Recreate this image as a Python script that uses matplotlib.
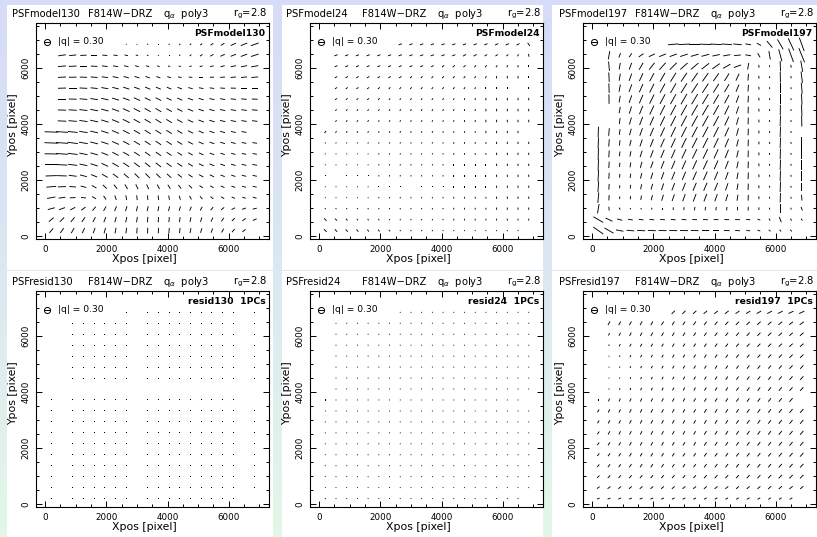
import numpy as np
import matplotlib
matplotlib.use("Agg")
import matplotlib.pyplot as plt
from matplotlib.patches import Rectangle

# star grid on the drizzled frame
grid_x = [200, 550, 900, 1250, 1600, 1950, 2300, 2650, 3000, 3350,
          3700, 4050, 4400, 4750, 5100, 5450, 5800, 6150, 6500, 6850]
grid_y = [6830, 6440, 6050, 5660, 5270, 4880, 4490, 4100, 3710, 3320,
          2930, 2540, 2150, 1760, 1370, 980, 590, 200]

# token = position angle [deg] / |q| x 100, '.' = no star; rows top to bottom
model130 = [
    ". . . . . . . 120/5 110/5 100/6 90/6 70/7 55/8 45/10 40/13 35/17 30/22 25/30 22/37 20/44",
    ". 8/40 6/37 3/33 0/30 176/26 172/22 168/18 165/13 160/9 140/6 90/6 55/8 42/12 35/16 30/20 26/25 22/30 20/36 18/42",
    ". 5/42 3/40 0/37 177/34 173/30 170/27 166/24 163/20 160/17 160/14 165/12 175/12 10/13 15/16 15/19 15/23 13/28 12/33 10/38",
    ". 3/42 1/40 178/38 175/36 172/33 168/31 165/29 162/27 160/24 160/22 162/20 168/19 175/19 0/20 3/22 5/25 5/28 5/32 5/36",
    ". 2/42 0/41 177/40 174/38 170/37 166/35 162/34 159/32 157/30 156/28 157/26 160/25 165/24 170/24 173/24 176/25 178/27 0/30 0/33",
    ". 0/42 178/42 175/41 171/40 167/39 163/38 159/37 156/36 154/34 153/32 154/30 156/29 160/28 164/27 168/27 171/27 174/28 176/29 178/31",
    ". 178/43 176/43 173/42 169/41 165/40 160/40 156/39 153/38 151/36 150/35 151/33 153/31 157/30 161/29 165/28 168/28 171/28 173/29 175/30",
    ". 177/45 175/44 172/43 168/42 163/41 158/41 154/40 151/39 149/37 148/36 149/34 151/32 155/31 159/30 163/29 166/28 169/28 171/28 173/29",
    "178/70 176/62 174/52 171/45 167/42 162/41 157/40 153/39 150/38 148/37 147/36 148/34 150/32 153/30 157/29 161/28 164/27 167/26 170/26 .",
    "178/72 176/64 173/55 170/47 166/42 161/40 156/39 152/38 149/37 147/36 146/35 147/33 149/31 152/29 156/28 160/27 163/26 166/25 169/25 171/25",
    "179/70 176/62 173/52 169/44 164/40 158/38 153/37 150/36 147/35 145/34 145/33 146/31 148/29 151/27 155/26 159/25 162/24 165/23 168/23 170/23",
    "0/66 177/57 173/48 168/42 162/40 155/39 150/39 146/38 143/37 142/36 142/35 144/33 146/31 150/29 154/28 158/27 161/26 164/25 167/25 169/25",
    "2/60 178/50 173/42 166/37 158/35 150/35 144/35 139/34 136/34 135/33 136/32 138/30 142/28 146/27 151/26 155/25 159/24 162/23 165/23 167/23",
    "5/52 2/42 175/35 165/30 150/28 138/28 128/28 120/28 116/28 115/27 117/26 122/25 128/24 136/23 144/22 150/21 156/21 160/21 163/21 166/21",
    "10/44 8/36 3/30 175/26 150/24 125/24 108/25 100/25 96/25 95/25 97/24 101/23 108/22 118/21 130/20 142/19 150/19 156/19 160/19 163/20",
    "15/38 20/33 28/30 38/28 50/27 60/27 68/27 73/27 77/27 79/26 79/26 77/25 73/24 68/23 60/22 50/21 38/21 28/21 20/21 14/22",
    "40/33 45/32 50/31 55/30 62/29 68/29 74/29 78/29 82/29 85/29 86/28 85/27 82/26 78/25 72/24 65/23 55/22 45/22 35/22 25/22",
    "50/31 55/31 60/31 65/30 70/30 75/30 80/30 83/30 86/30 88/30 88/29 86/28 83/27 79/26 74/25 68/24 60/23 50/22 40/21 .",
]

model24 = [
    ". . . . . . . 20/18 20/18 20/18 20/18 20/18 20/18 20/18 22/18 22/18 25/18 25/18 28/18 125/20",
    ". 20/18 20/18 20/18 20/18 20/18 20/18 20/18 20/18 20/18 20/18 22/18 22/18 30/18 30/18 30/16 35/15 40/13 60/12 100/15",
    ". 25/16 25/16 25/16 25/16 25/16 25/16 25/16 25/16 25/16 28/15 40/15 40/15 40/15 45/13 50/13 55/12 60/12 80/12 90/13",
    ". 30/15 30/15 30/15 30/15 30/15 30/15 32/15 45/13 45/13 45/13 45/13 45/13 48/13 50/12 70/12 88/13 88/13 88/13 90/13",
    ". 35/13 35/13 35/13 35/13 38/13 50/12 50/12 50/12 50/12 50/12 52/12 52/12 55/12 70/10 90/13 90/13 90/13 90/13 90/13",
    ". 40/12 40/12 40/12 40/12 42/12 55/10 55/10 55/10 55/10 55/10 58/10 58/10 75/10 75/10 92/13 92/13 92/13 92/13 92/13",
    ". 45/10 45/10 45/10 45/10 48/10 60/10 60/10 60/10 60/10 60/10 62/10 62/10 80/10 80/10 92/13 92/13 92/13 92/13 92/13",
    ". 50/10 50/10 50/10 50/10 62/9 62/9 62/9 62/9 62/9 62/9 62/9 65/9 80/10 80/10 93/13 93/13 93/13 93/13 93/13",
    "55/14 55/10 55/10 55/10 65/9 65/9 65/9 65/9 65/9 65/9 65/9 65/9 80/9 80/9 80/9 92/12 92/12 92/12 92/12 .",
    "60/6 60/6 60/6 60/6 70/7 70/7 70/7 70/7 70/7 70/7 70/7 70/7 85/9 85/9 85/9 85/9 92/12 92/12 92/12 92/12",
    "70/5 70/5 70/5 70/5 70/5 75/7 75/7 75/7 75/7 75/7 75/7 75/7 88/9 88/9 88/9 88/9 93/12 93/12 93/12 93/12",
    "80/5 80/5 80/5 80/5 80/5 80/7 80/7 80/7 80/7 80/7 80/7 80/7 90/9 90/9 90/9 90/9 93/12 93/12 93/12 93/12",
    "90/5 90/5 90/5 90/5 90/5 85/7 85/7 85/7 85/7 85/7 85/7 85/7 90/9 90/9 90/9 90/9 93/12 93/12 93/12 93/12",
    "100/5 100/5 100/5 100/5 100/5 90/7 90/7 90/7 90/7 90/7 90/7 90/7 90/9 90/9 90/9 90/9 93/12 93/12 93/12 93/12",
    "110/5 110/5 110/5 110/5 110/5 95/7 95/7 95/7 95/7 95/7 95/7 95/7 92/9 92/9 92/9 92/9 93/12 93/12 93/12 93/12",
    "125/7 125/7 125/7 125/7 100/7 100/7 100/7 100/7 100/7 100/7 100/7 100/7 93/9 93/9 93/9 93/9 93/12 93/12 93/12 93/12",
    "135/18 135/15 130/12 120/9 120/9 120/9 105/7 105/7 105/7 105/7 105/7 105/7 95/9 95/9 95/9 95/9 93/10 93/10 93/10 93/10",
    "135/20 135/18 135/16 132/15 130/13 128/12 125/10 120/7 120/7 120/7 120/7 110/6 110/6 110/6 110/6 100/6 100/6 100/6 100/6 .",
]

model197 = [
    ". . . . . . . 5/55 3/60 0/60 178/60 177/60 176/55 175/45 170/30 150/25 130/45 120/60 115/70 110/75",
    ". 80/45 70/25 55/25 35/30 25/35 22/38 20/40 18/42 16/42 15/42 12/40 10/38 5/35 170/30 120/25 100/45 105/65 110/75 112/80",
    ". 95/50 80/35 70/38 60/42 52/46 48/50 45/52 42/52 40/52 38/50 35/48 30/45 20/40 80/35 95/15 100/10 92/55 100/15 100/60",
    ". 93/50 80/38 70/40 65/45 62/48 60/52 58/55 56/56 55/56 55/54 55/50 58/46 65/40 85/35 95/15 100/10 91/55 100/12 97/60",
    ". 92/50 80/38 70/42 66/47 63/51 61/55 60/58 58/60 57/60 57/58 58/54 60/48 67/40 86/35 95/15 100/10 90/55 100/10 95/58",
    ". 91/50 80/36 71/42 67/48 64/53 62/57 61/60 60/63 59/63 59/61 60/56 62/50 70/40 87/35 95/15 100/10 90/55 100/10 93/58",
    ". 90/52 80/34 72/40 68/47 65/52 63/57 62/61 61/64 60/65 60/63 61/58 64/52 72/40 88/35 95/15 100/10 89/55 100/10 92/58",
    ". 90/52 82/32 74/38 69/45 66/50 64/55 63/60 62/63 61/64 61/64 62/59 65/52 74/40 88/35 94/15 100/10 88/55 100/10 91/58",
    "88/55 85/40 82/30 75/35 70/42 67/47 65/52 64/57 63/60 62/62 62/62 63/58 66/51 75/40 88/35 93/15 100/10 88/55 100/10 .",
    "88/58 85/38 83/28 76/32 71/39 68/44 66/49 65/54 64/57 63/59 63/59 64/56 67/49 76/38 88/35 93/15 100/10 88/55 100/10 90/58",
    "88/60 86/36 84/25 78/29 72/36 69/41 67/46 66/50 65/54 64/56 64/56 65/53 68/47 77/38 88/35 93/15 100/10 88/55 100/10 90/58",
    "88/60 86/34 85/22 80/26 74/33 70/38 68/43 67/47 66/50 65/52 65/52 66/50 69/45 78/37 88/35 92/15 100/10 88/55 100/10 90/55",
    "87/60 86/32 86/20 82/23 76/30 72/35 70/40 68/44 67/47 66/49 66/49 67/47 70/42 79/35 88/35 92/15 100/10 88/55 100/10 90/50",
    "86/58 86/30 86/17 84/20 78/27 74/32 71/37 69/41 68/44 67/46 67/46 68/44 71/40 80/34 88/33 92/15 100/10 88/55 100/10 90/40",
    "85/55 87/28 88/14 86/17 80/23 76/28 73/33 71/37 70/40 69/42 69/42 70/40 73/37 81/32 88/30 92/15 100/10 88/50 100/10 95/30",
    "80/50 95/20 120/12 120/8 110/8 100/10 90/12 85/14 82/16 80/18 80/18 82/18 84/18 86/18 88/20 92/14 100/10 90/45 100/10 110/20",
    "150/60 155/40 165/28 170/25 172/25 174/25 175/25 176/25 177/25 178/25 178/25 178/25 178/25 178/25 175/22 160/15 120/12 110/30 125/12 130/12",
    "145/65 150/55 170/40 175/40 177/42 178/42 179/42 179/42 179/42 179/40 0/38 0/35 178/30 175/25 170/20 160/15 140/12 130/12 130/12 .",
]

resid130 = [
    ". . . . . . . 90/5 90/5 90/5 90/5 90/5 90/5 90/5 90/5 90/5 90/5 90/5 90/5 90/5",
    ". 90/5 90/5 90/5 90/5 90/5 90/5 90/5 90/5 90/5 90/5 90/5 90/5 90/5 90/5 90/5 90/5 90/5 90/5 90/5",
    ". 90/5 90/5 90/5 90/5 90/5 90/5 90/5 90/5 90/5 90/5 90/5 90/5 90/5 90/5 90/5 90/5 90/5 90/5 90/5",
    ". 90/5 90/5 90/5 90/5 90/5 90/5 90/5 90/5 90/5 90/5 90/5 90/5 90/5 90/5 90/5 90/5 90/5 90/5 90/5",
    ". 90/5 90/5 90/5 90/5 90/5 90/5 90/5 90/5 90/5 90/5 90/5 90/5 90/5 90/5 90/5 90/5 90/5 90/5 90/5",
    ". 90/5 90/5 90/5 90/5 90/5 90/5 90/5 90/5 90/5 90/5 90/5 90/5 90/5 90/5 90/5 90/5 90/5 90/5 90/5",
    ". 90/5 90/5 90/5 90/5 90/5 90/5 90/5 90/5 90/5 90/5 90/5 90/5 90/5 90/5 90/5 90/5 90/5 90/5 90/5",
    ". 90/5 90/5 90/5 90/5 90/5 90/5 90/5 90/5 90/5 90/5 90/5 90/5 90/5 90/5 90/5 90/5 90/5 90/5 90/5",
    "90/5 90/5 90/5 90/5 90/5 90/5 90/5 90/5 90/5 90/5 90/5 90/5 90/5 90/5 90/5 90/5 90/5 90/5 90/5 .",
    "90/5 90/5 90/5 90/5 90/5 90/5 90/5 90/5 90/5 90/5 90/5 90/5 90/5 90/5 90/5 90/5 90/5 90/5 90/5 90/5",
    "90/5 90/5 90/5 90/5 90/5 90/5 90/5 90/5 90/5 90/5 90/5 90/5 90/5 90/5 90/5 90/5 90/5 90/5 90/5 90/5",
    "90/5 90/5 90/5 90/5 90/5 90/5 90/5 90/5 90/5 90/5 90/5 90/5 90/5 90/5 90/5 90/5 90/5 90/5 90/5 90/5",
    "90/5 90/5 90/5 90/5 90/5 90/5 90/5 90/5 90/5 90/5 90/5 90/5 90/5 90/5 90/5 90/5 90/5 90/5 90/5 90/5",
    "90/5 90/5 90/5 90/5 90/5 90/5 90/5 90/5 90/5 90/5 90/5 90/5 90/5 90/5 90/5 90/5 90/5 90/5 90/5 90/5",
    "90/5 90/5 90/5 90/5 90/5 90/5 90/5 90/5 90/5 90/5 90/5 90/5 90/5 90/5 90/5 90/5 90/5 90/5 90/5 90/5",
    "90/5 90/5 90/5 90/5 90/5 90/5 90/5 90/5 90/5 90/5 90/5 90/5 90/5 90/5 90/5 90/5 90/5 90/5 90/5 90/5",
    "90/5 90/5 90/5 90/5 90/5 90/5 90/5 90/5 90/5 90/5 90/5 90/5 90/5 90/5 90/5 90/5 90/5 90/5 90/5 90/5",
    "90/5 90/5 90/5 90/5 90/5 90/5 90/5 90/5 90/5 90/5 90/5 90/5 90/5 90/5 90/5 90/5 90/5 90/5 90/5 .",
]

resid24 = [
    ". . . . . . . 80/5 80/5 80/5 80/5 80/5 80/5 80/5 80/5 80/5 80/5 80/5 80/5 80/5",
    ". 80/5 80/5 80/5 80/5 80/5 80/5 80/5 80/5 80/5 80/5 80/5 80/5 80/5 80/5 80/5 80/5 80/5 80/5 80/5",
    ". 80/5 80/5 80/5 80/5 80/5 80/5 80/5 80/5 80/5 80/5 80/5 80/5 80/5 80/5 80/5 80/5 80/5 80/5 80/5",
    ". 80/5 80/5 80/5 80/5 80/5 80/5 80/5 80/5 80/5 80/5 80/5 80/5 80/5 80/5 80/5 80/5 80/5 80/5 80/5",
    ". 80/5 80/5 80/5 80/5 80/5 80/5 80/5 80/5 80/5 80/5 80/5 80/5 80/5 80/5 80/5 80/5 80/5 80/5 80/5",
    ". 80/5 80/5 80/5 80/5 80/5 80/5 80/5 80/5 80/5 80/5 80/5 80/5 80/5 80/5 80/5 80/5 80/5 80/5 80/5",
    ". 80/5 80/5 80/5 80/5 80/5 80/5 80/5 80/5 80/5 80/5 80/5 80/5 80/5 80/5 80/5 80/5 80/5 80/5 80/5",
    ". 80/5 80/5 80/5 80/5 80/5 80/5 80/5 80/5 80/5 80/5 80/5 80/5 80/5 80/5 80/5 80/5 80/5 80/5 80/5",
    "90/7 80/5 80/5 80/5 80/5 80/5 80/5 80/5 80/5 80/5 80/5 80/5 80/5 80/5 80/5 80/5 80/5 80/5 80/5 .",
    "80/5 80/5 80/5 80/5 80/5 80/5 80/5 80/5 80/5 80/5 80/5 80/5 80/5 80/5 80/5 80/5 80/5 80/5 80/5 80/5",
    "80/5 80/5 80/5 80/5 80/5 80/5 80/5 80/5 80/5 80/5 80/5 80/5 80/5 80/5 80/5 80/5 80/5 80/5 80/5 80/5",
    "80/5 80/5 80/5 80/5 80/5 80/5 80/5 80/5 80/5 80/5 80/5 80/5 80/5 80/5 80/5 80/5 80/5 80/5 80/5 80/5",
    "80/5 80/5 80/5 80/5 80/5 80/5 80/5 80/5 80/5 80/5 80/5 80/5 80/5 80/5 80/5 80/5 80/5 80/5 80/5 80/5",
    "80/5 80/5 80/5 80/5 80/5 80/5 80/5 80/5 80/5 80/5 80/5 80/5 80/5 80/5 80/5 80/5 80/5 80/5 80/5 80/5",
    "80/5 80/5 80/5 80/5 80/5 80/5 80/5 80/5 80/5 80/5 80/5 80/5 80/5 80/5 80/5 80/5 80/5 80/5 80/5 80/5",
    "80/5 80/5 80/5 80/5 80/5 80/5 80/5 80/5 80/5 80/5 80/5 80/5 80/5 80/5 80/5 80/5 80/5 80/5 80/5 80/5",
    "80/5 80/5 80/5 80/5 80/5 80/5 80/5 80/5 80/5 80/5 80/5 80/5 80/5 80/5 80/5 80/5 80/5 80/5 80/5 80/5",
    "120/6 80/5 80/5 80/5 80/5 80/5 80/5 80/5 80/5 80/5 80/5 80/5 80/5 80/5 80/5 80/5 80/5 80/5 80/5 .",
]

resid197 = [
    ". . . . . . . 45/24 45/24 42/24 40/24 38/24 36/25 34/25 32/26 30/27 28/28 26/28 25/29 25/30",
    ". 60/22 60/22 60/22 60/22 60/22 58/22 58/22 56/22 55/23 52/23 50/23 48/24 46/24 45/24 44/25 42/25 40/26 38/26 36/27",
    ". 65/14 62/18 62/20 60/20 60/21 60/21 58/21 58/21 56/21 55/21 52/22 50/22 48/22 47/23 45/23 44/24 42/24 40/24 40/25",
    ". 70/8 65/13 63/16 62/17 60/18 60/18 60/19 58/19 57/20 56/20 55/21 52/21 50/21 48/22 47/22 45/23 44/23 43/24 42/25",
    ". 75/5 70/8 65/12 63/14 62/15 60/16 60/17 59/18 58/19 57/19 55/20 53/20 52/21 50/21 48/22 47/22 46/23 45/24 44/25",
    ". 80/5 72/7 68/10 65/12 63/14 62/15 61/16 60/17 59/18 58/18 57/19 55/20 53/20 52/21 50/22 49/22 48/23 47/24 46/25",
    ". 80/5 75/7 70/10 66/12 64/14 63/15 62/16 61/17 60/18 59/18 58/19 56/20 55/20 53/21 52/22 50/22 49/23 48/24 47/25",
    ". 85/6 75/9 70/12 67/14 65/15 63/16 62/17 61/18 60/18 59/19 58/19 57/20 56/21 54/22 53/22 52/23 50/24 49/24 48/25",
    "90/14 70/16 67/17 65/18 64/18 63/18 62/19 61/19 60/19 59/20 58/20 57/21 56/21 55/21 54/22 53/22 52/23 51/24 50/25 .",
    "58/17 62/19 63/19 63/20 63/20 62/20 62/20 61/20 60/20 60/20 59/22 58/22 57/22 56/22 55/23 54/23 53/23 52/25 51/25 50/26",
    "58/17 62/19 63/19 63/20 63/20 62/20 62/20 61/20 60/20 60/20 59/22 58/22 57/22 56/22 55/23 54/23 53/23 52/25 51/25 50/26",
    "56/17 60/19 62/19 62/20 62/20 62/20 61/20 60/20 60/20 59/20 58/22 57/22 56/22 55/22 54/23 53/23 52/23 51/25 50/25 50/26",
    "55/17 58/19 60/19 60/20 60/20 60/20 60/20 59/20 58/20 58/20 57/22 56/22 55/22 54/22 53/23 52/23 51/23 50/25 50/25 49/26",
    "52/17 55/19 57/19 58/20 58/20 58/20 57/20 57/20 56/20 56/20 55/22 54/22 54/22 53/22 52/23 51/23 50/23 50/25 49/25 48/26",
    "50/17 52/19 54/19 55/20 55/20 55/20 55/20 54/20 54/20 53/20 53/22 52/22 52/22 51/22 50/23 50/23 49/23 48/25 48/25 47/26",
    "45/17 48/19 50/19 50/20 50/20 50/20 50/20 50/20 50/20 50/20 49/22 49/22 48/22 48/22 47/23 47/23 46/23 45/25 45/25 45/26",
    "35/17 38/19 40/19 40/19 40/19 40/19 40/19 40/19 40/19 40/19 40/20 40/20 40/20 40/20 40/20 40/20 40/22 40/22 40/22 40/22",
    "20/15 22/16 24/16 25/16 25/16 26/16 26/16 27/16 28/16 28/16 29/16 30/16 30/16 30/16 31/16 31/16 32/16 32/16 33/16 .",
]

titles = ["PSFmodel130", "PSFmodel24", "PSFmodel197",
          "PSFresid130", "PSFresid24", "PSFresid197"]
tags = ["PSFmodel130", "PSFmodel24", "PSFmodel197",
        "resid130  1PCs", "resid24  1PCs", "resid197  1PCs"]
fields = [model130, model24, model197, resid130, resid24, resid197]

Q_REF = 0.30
Q_PER_INCH = Q_REF / 0.057   # |q| = 0.30 -> 5.7 px stick

W, H = 817, 537
fig = plt.figure(figsize=(W / 100, H / 100), dpi=100)
plt.rcParams['font.family'] = 'DejaVu Sans'

# slide background: soft vertical gradient with white tiles
bg = fig.add_axes([0, 0, 1, 1], zorder=-10)
top = np.array([0.84, 0.86, 0.97])
mid = np.array([0.86, 0.91, 0.95])
bot = np.array([0.89, 0.97, 0.91])
t = np.linspace(0, 1, 256)[:, None]
grad = np.where(t < 0.5, top + (mid - top) * (t / 0.5), mid + (bot - mid) * ((t - 0.5) / 0.5))
bg.imshow(grad[:, None, :], aspect='auto', extent=[0, W, H, 0])
for x0, x1 in [(7, 273), (282, 543), (552, 817)]:
    for y0, y1 in [(5, 269.5), (271, 537)]:
        bg.add_patch(Rectangle((x0, y0), x1 - x0, y1 - y0, color='white', lw=0))
bg.set_xlim(0, W)
bg.set_ylim(H, 0)
bg.axis('off')

col_left = [36, 310, 583]
row_top = [22.7, 290.7]
aw, ah = 232.5, 216.3


def stick_field(rows):
    xs, ys, us, vs = [], [], [], []
    for y, row in zip(grid_y, rows):
        toks = row.split()
        assert len(toks) == len(grid_x)
        for x, tok in zip(grid_x, toks):
            if tok == '.':
                continue
            a, q = tok.split('/')
            a = np.radians(float(a))
            q = float(q) / 100
            xs.append(x)
            ys.append(y)
            us.append(q * np.cos(a))
            vs.append(q * np.sin(a))
    return xs, ys, us, vs


for k, (title, tag, rows) in enumerate(zip(titles, tags, fields)):
    r, c = divmod(k, 3)
    ax = fig.add_axes([col_left[c] / W, (H - row_top[r] - ah) / H, aw / W, ah / H])
    xs, ys, us, vs = stick_field(rows)
    ax.quiver(xs, ys, us, vs, angles='uv', pivot='middle',
              scale_units='inches', scale=Q_PER_INCH,
              headwidth=0, headlength=0, headaxislength=0,
              units='dots', width=0.9, color='black')
    ax.set_xlim(-300, 7300)
    ax.set_ylim(-100, 7600)
    ax.set_xticks([0, 2000, 4000, 6000])
    ax.set_yticks([0, 2000, 4000, 6000])
    ax.set_xticks(np.arange(0, 7300, 500), minor=True)
    ax.set_yticks(np.arange(0, 7600, 500), minor=True)
    ax.tick_params(which='both', direction='in', top=True, right=True,
                   labelsize=6.3, width=0.7, pad=4)
    ax.tick_params(which='major', length=4.5)
    ax.tick_params(which='minor', length=2.2)
    ax.tick_params(axis='y', labelrotation=90)
    for lab in ax.get_yticklabels():
        lab.set_va('center')
    for s in ax.spines.values():
        s.set_linewidth(0.8)
    ax.set_xlabel('Xpos [pixel]', fontsize=7.8)
    ax.xaxis.set_label_coords(0.464, -0.0925)
    ax.xaxis.label.set_va('center')
    ax.set_ylabel('Ypos [pixel]', fontsize=7.8)
    ax.yaxis.set_label_coords(-0.099, 0.527)
    ax.yaxis.label.set_va('center')

    # header line above the frame
    ty = 1.028
    ax.text(-0.103, ty, title, transform=ax.transAxes, fontsize=7.2, va='baseline', ha='left')
    ax.text(0.362, ty, 'F814W\u2212DRZ', transform=ax.transAxes, fontsize=7.2, va='baseline', ha='center')
    ax.text(0.547, ty, r'q$_\alpha$  poly3', transform=ax.transAxes, fontsize=7.2, va='baseline', ha='left')
    ax.text(0.996, ty, r'r$_{\rm g}$=2.8', transform=ax.transAxes, fontsize=7.2, va='baseline', ha='right')

    # labels inside the frame
    ax.text(0.987, 0.9385, tag, transform=ax.transAxes, fontsize=6.7,
            fontweight='bold', ha='right', va='baseline')
    ax.plot([0.047], [0.911], transform=ax.transAxes, marker='o', ms=4.4,
            mfc='none', mec='black', mew=0.7)
    ax.plot([0.047], [0.911], transform=ax.transAxes, marker='_', ms=4.4,
            mec='black', mew=0.7)
    ax.text(0.095, 0.911, '|q| = 0.30', transform=ax.transAxes, fontsize=6.6,
            ha='left', va='center')

fig.savefig('out.png', dpi=100)
